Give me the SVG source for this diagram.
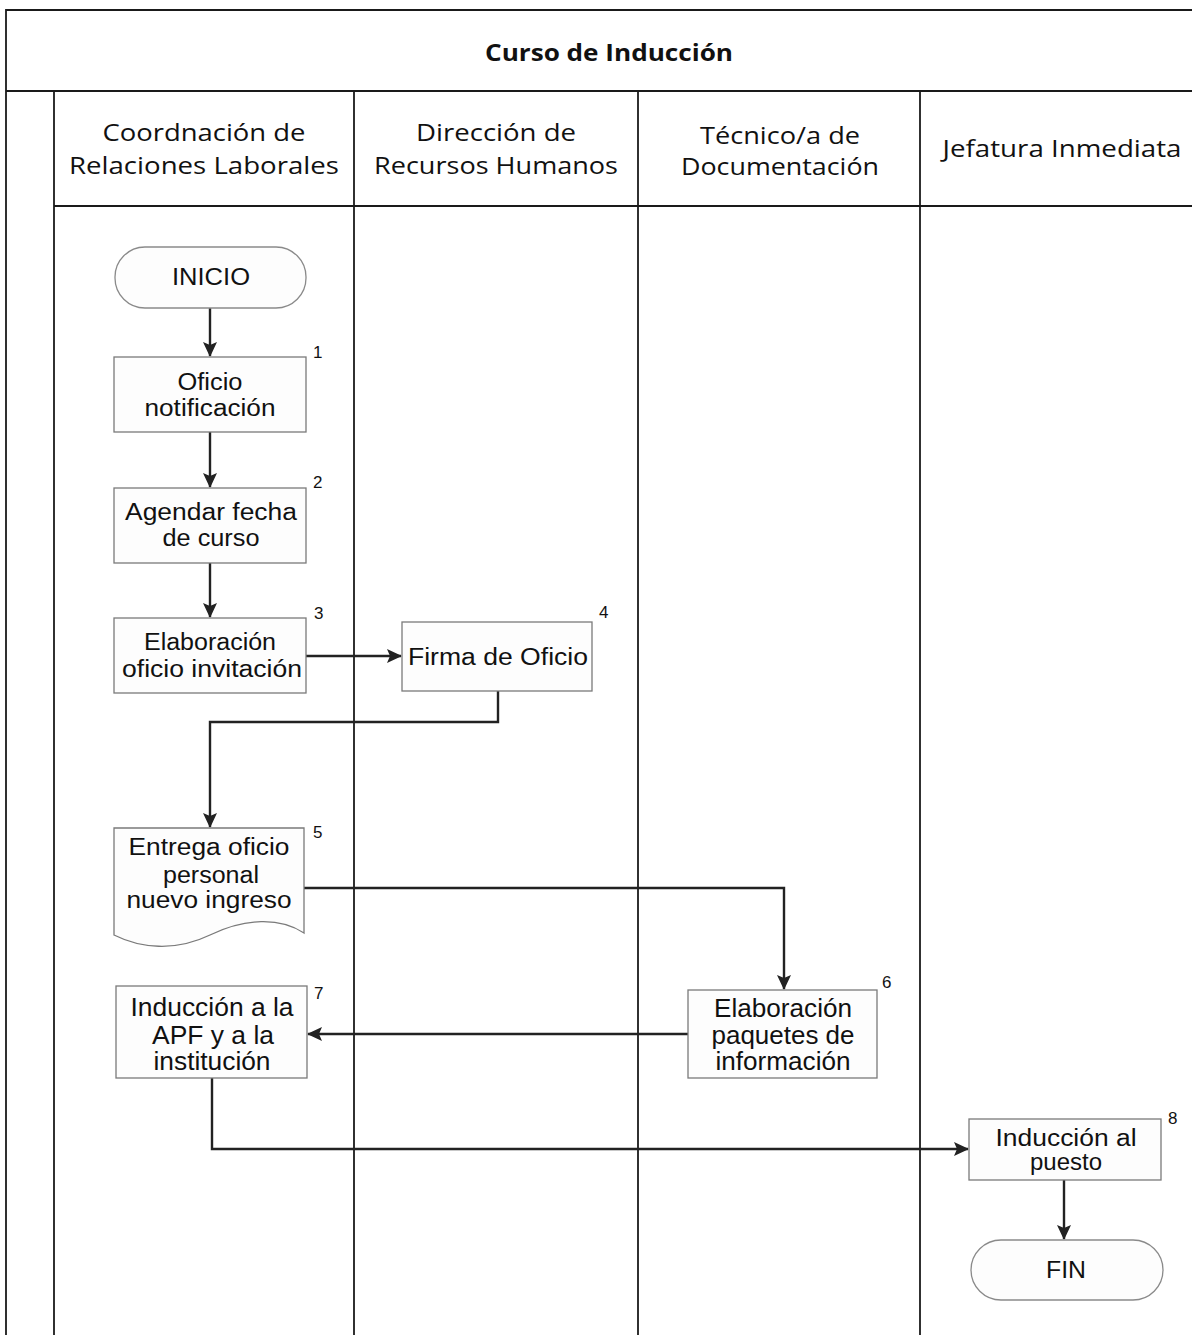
<svg xmlns="http://www.w3.org/2000/svg" width="1192" height="1335" viewBox="0 0 1192 1335">
<style>
.frame{stroke:#1a1a1a;stroke-width:1.8;fill:none}
.box{fill:#fdfdfd;stroke:#7a7a7a;stroke-width:1.3}
.term{fill:#fdfdfd;stroke:#8a8a8a;stroke-width:1.3}
.conn{stroke:#222;stroke-width:2.4;fill:none;marker-end:url(#ah)}
.t{font-family:"Liberation Sans",Arial,sans-serif;font-size:23px;fill:#111;text-anchor:middle}
.tn{font-family:"Liberation Sans",Arial,sans-serif;font-size:25px;fill:#111;text-anchor:middle}
.n{font-family:"Liberation Sans",Arial,sans-serif;font-size:17px;fill:#111}
.h{font-family:"Open Sans","Liberation Sans",sans-serif;font-size:23px;fill:#111;text-anchor:middle}
.title{font-family:"Open Sans","Liberation Sans",sans-serif;font-size:23px;font-weight:bold;fill:#111;text-anchor:middle}
</style>
<defs>
<marker id="ah" markerWidth="16" markerHeight="16" refX="14" refY="7" orient="auto" markerUnits="userSpaceOnUse">
<path d="M0,0 L15,7 L0,14 L3,7 Z" fill="#222"/>
</marker>
</defs>
<rect width="1192" height="1335" fill="#ffffff"/>
<g id="frame">
<path class="frame" d="M6,1335 V10 H1192"/>
<path class="frame" d="M6,91 H1192"/>
<path class="frame" d="M54,206 H1192"/>
<path class="frame" d="M54,91 V1335"/>
<path class="frame" d="M354,91 V1335"/>
<path class="frame" d="M638,91 V1335"/>
<path class="frame" d="M920,91 V1335"/>
<text class="title" x="609" y="61" textLength="248" lengthAdjust="spacingAndGlyphs">Curso de Inducción</text>
<text class="h" x="204" y="141" textLength="203" lengthAdjust="spacingAndGlyphs">Coordnación de</text>
<text class="h" x="204" y="174" textLength="270" lengthAdjust="spacingAndGlyphs">Relaciones Laborales</text>
<text class="h" x="496" y="141" textLength="160" lengthAdjust="spacingAndGlyphs">Dirección de</text>
<text class="h" x="496" y="174" textLength="244" lengthAdjust="spacingAndGlyphs">Recursos Humanos</text>
<text class="h" x="780" y="144" textLength="160" lengthAdjust="spacingAndGlyphs">Técnico/a de</text>
<text class="h" x="780" y="175" textLength="198" lengthAdjust="spacingAndGlyphs">Documentación</text>
<text class="h" x="1062" y="157" textLength="239" lengthAdjust="spacingAndGlyphs">Jefatura Inmediata</text>
</g>
<g id="connectors">
<path class="conn" d="M210,308 V356"/>
<path class="conn" d="M210,432 V487"/>
<path class="conn" d="M210,563 V617"/>
<path class="conn" d="M306,656 H401"/>
<path class="conn" d="M498,691 V722 H210 V827"/>
<path class="conn" d="M304,888 H784 V989"/>
<path class="conn" d="M688,1034 H308"/>
<path class="conn" d="M212,1078 V1149 H968"/>
<path class="conn" d="M1064,1180 V1239"/>
</g>
<g id="inicio">
<rect class="term" x="115" y="247" width="191" height="61" rx="30" ry="30"/>
<text class="t" x="211" y="285" textLength="78" lengthAdjust="spacingAndGlyphs">INICIO</text>
</g>
<g id="n1">
<rect class="box" x="114" y="357" width="192" height="75"/>
<text class="t" x="210" y="390" textLength="65" lengthAdjust="spacingAndGlyphs">Oficio</text>
<text class="t" x="210" y="416" textLength="131" lengthAdjust="spacingAndGlyphs">notificación</text>
<text class="n" x="313" y="358">1</text>
</g>
<g id="n2">
<rect class="box" x="114" y="488" width="192" height="75"/>
<text class="t" x="211" y="520" textLength="172" lengthAdjust="spacingAndGlyphs">Agendar fecha</text>
<text class="t" x="211" y="546" textLength="97" lengthAdjust="spacingAndGlyphs">de curso</text>
<text class="n" x="313" y="488">2</text>
</g>
<g id="n3">
<rect class="box" x="114" y="618" width="192" height="75"/>
<text class="t" x="210" y="650" textLength="132" lengthAdjust="spacingAndGlyphs">Elaboración</text>
<text class="t" x="212" y="677" textLength="180" lengthAdjust="spacingAndGlyphs">oficio invitación</text>
<text class="n" x="314" y="619">3</text>
</g>
<g id="n4">
<rect class="box" x="402" y="622" width="190" height="69"/>
<text class="t" x="498" y="665" textLength="180" lengthAdjust="spacingAndGlyphs">Firma de Oficio</text>
<text class="n" x="599" y="618">4</text>
</g>
<g id="n5">
<path class="box" d="M114,828 H304 V933 C280,917 245,918 210,935 C175,952 140,948 114,935 Z"/>
<text class="t" x="209" y="855" textLength="161" lengthAdjust="spacingAndGlyphs">Entrega oficio</text>
<text class="t" x="211" y="883" textLength="96" lengthAdjust="spacingAndGlyphs">personal</text>
<text class="t" x="209" y="908" textLength="165" lengthAdjust="spacingAndGlyphs">nuevo ingreso</text>
<text class="n" x="313" y="838">5</text>
</g>
<g id="n6">
<rect class="box" x="688" y="990" width="189" height="88"/>
<text class="tn" x="783" y="1017" textLength="138" lengthAdjust="spacingAndGlyphs">Elaboración</text>
<text class="tn" x="783" y="1044" textLength="143" lengthAdjust="spacingAndGlyphs">paquetes de</text>
<text class="tn" x="783" y="1070" textLength="135" lengthAdjust="spacingAndGlyphs">información</text>
<text class="n" x="882" y="988">6</text>
</g>
<g id="n7">
<rect class="box" x="116" y="986" width="191" height="92"/>
<text class="tn" x="212" y="1016" textLength="163" lengthAdjust="spacingAndGlyphs">Inducción a la</text>
<text class="tn" x="213" y="1044" textLength="122" lengthAdjust="spacingAndGlyphs">APF y a la</text>
<text class="tn" x="212" y="1070" textLength="117" lengthAdjust="spacingAndGlyphs">institución</text>
<text class="n" x="314" y="999">7</text>
</g>
<g id="n8">
<rect class="box" x="969" y="1119" width="192" height="61"/>
<text class="t" x="1066" y="1146" textLength="141" lengthAdjust="spacingAndGlyphs">Inducción al</text>
<text class="t" x="1066" y="1170" textLength="72" lengthAdjust="spacingAndGlyphs">puesto</text>
<text class="n" x="1168" y="1124">8</text>
</g>
<g id="fin">
<rect class="term" x="971" y="1240" width="192" height="60" rx="30" ry="30"/>
<text class="t" x="1066" y="1278" textLength="40" lengthAdjust="spacingAndGlyphs">FIN</text>
</g>
</svg>
